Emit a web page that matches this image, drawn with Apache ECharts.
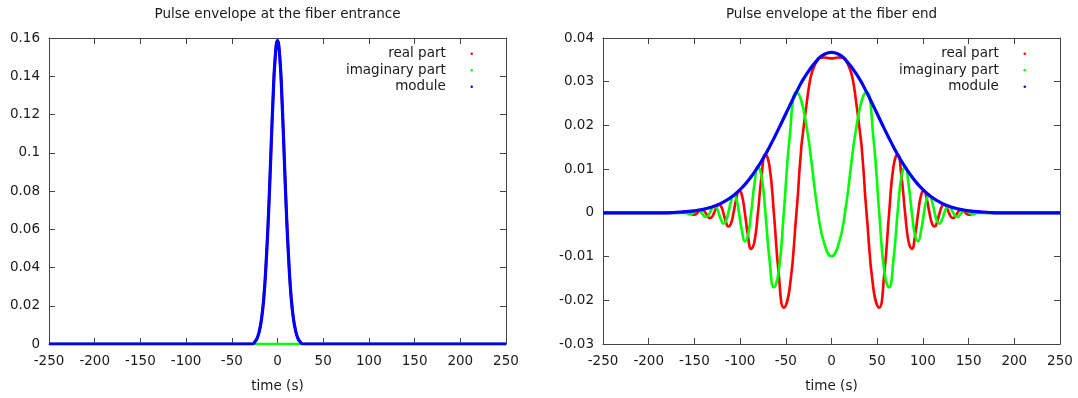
<!DOCTYPE html>
<html>
<head>
<meta charset="utf-8">
<script src="https://cdn.jsdelivr.net/npm/echarts@6/dist/echarts.min.js"></script>
<style>
  html, body { margin: 0; padding: 0; background: #fff; }
  #chart { width: 1078px; height: 398px; }
</style>
</head>
<body>
<div id="chart"></div>
<script>
// gnuplot-style pair of panels: pulse at the fiber entrance and at the fiber end.
// Values (time in s, amplitude in a.u.).

const seriesNames = ['real part', 'imaginary part', 'module']
const seriesColors = ['#ff0000', '#00ff00', '#0000ff']

// left panel: entrance
const entranceTime = [-250, -27.5, -25, -22.5, -20, -17.5, -15, -12.5, -10, -7.5, -5, -2.5, 0,
  2.5, 5, 7.5, 10, 12.5, 15, 17.5, 20, 22.5, 25, 27.5, 250]
const entranceReal = [0, 0, 0.001, 0.0028, 0.0065, 0.013, 0.024, 0.042, 0.066, 0.0962, 0.127, 0.150, 0.1586,
  0.150, 0.127, 0.0962, 0.066, 0.042, 0.024, 0.013, 0.0065, 0.0028, 0.001, 0, 0]
const entranceImag = [0, 0, 0, 0, 0, 0, 0, 0, 0, 0, 0, 0, 0,
  0, 0, 0, 0, 0, 0, 0, 0, 0, 0, 0, 0]
const entranceModule = [0, 0, 0.001, 0.0028, 0.0065, 0.013, 0.024, 0.042, 0.066, 0.0962, 0.127, 0.150, 0.1586,
  0.150, 0.127, 0.0962, 0.066, 0.042, 0.024, 0.013, 0.0065, 0.0028, 0.001, 0, 0]

// right panel: fiber end (chirped, broadened pulse)
const endTime = [-250, -185, -170,
  -158.96, -156.98, -154.97, -152.94, -150.88, -148.79, -146.67, -144.52, -142.34, -140.12,
  -137.87, -135.57, -133.24, -130.87, -128.46, -126.00, -123.49, -120.92, -118.31, -115.63,
  -112.89, -110.08, -107.20, -104.24, -101.19, -98.04, -94.80, -91.43, -87.94, -84.31,
  -80.51, -76.52, -72.31, -67.84, -63.06, -57.88, -52.19, -45.80, -38.35, -29.07, -14.78,
  -7.5, 0, 7.5,
  14.78, 29.07, 38.35, 45.80, 52.19, 57.88, 63.06, 67.84, 72.31, 76.52,
  80.51, 84.31, 87.94, 91.43, 94.80, 98.04, 101.19, 104.24, 107.20, 110.08,
  112.89, 115.63, 118.31, 120.92, 123.49, 126.00, 128.46, 130.87, 133.24, 135.57,
  137.87, 140.12, 142.34, 144.52, 146.67, 148.79, 150.88, 152.94, 154.97, 156.98, 158.96,
  170, 185, 250]
const endReal = [0, 0, 0,
  0.00028, 0.00023, 0, -0.00028, -0.00045, -0.00036, 0, 0.00046, 0.00073, 0.00059,
  0, -0.00075, -0.00119, -0.00095, 0, 0.00121, 0.00193, 0.00154, 0, -0.00197,
  -0.00313, -0.00250, 0, 0.00318, 0.00508, 0.00406, 0, -0.00517, -0.00825, -0.00658,
  0, 0.00838, 0.01337, 0.01067, 0, -0.01359, -0.02169, -0.01731, 0, 0.02205, 0.03518,
  0.03555, 0.03533, 0.03555,
  0.03518, 0.02205, 0, -0.01731, -0.02169, -0.01359, 0, 0.01067, 0.01337, 0.00838,
  0, -0.00658, -0.00825, -0.00517, 0, 0.00406, 0.00508, 0.00318, 0, -0.00250,
  -0.00313, -0.00197, 0, 0.00154, 0.00193, 0.00121, 0, -0.00095, -0.00119, -0.00075,
  0, 0.00059, 0.00073, 0.00046, 0, -0.00036, -0.00045, -0.00028, 0, 0.00023, 0.00028,
  0, 0, 0]
const endImag = [0, 0, 0,
  0, -0.00023, -0.00036, -0.00028, 0, 0.00036, 0.00058, 0.00046, 0, -0.00059,
  -0.00094, -0.00075, 0, 0.00095, 0.00152, 0.00121, 0, -0.00154, -0.00246, -0.00197,
  0, 0.00250, 0.00399, 0.00318, 0, -0.00406, -0.00647, -0.00517, 0, 0.00658,
  0.01050, 0.00838, 0, -0.01067, -0.01703, -0.01359, 0, 0.01731, 0.02763, 0.02205, 0,
  -0.00734, -0.00993, -0.00734,
  0, 0.02205, 0.02763, 0.01731, 0, -0.01359, -0.01703, -0.01067, 0, 0.00838,
  0.01050, 0.00658, 0, -0.00517, -0.00647, -0.00406, 0, 0.00318, 0.00399, 0.00250,
  0, -0.00197, -0.00246, -0.00154, 0, 0.00121, 0.00152, 0.00095, 0, -0.00075,
  -0.00094, -0.00059, 0, 0.00046, 0.00058, 0.00036, 0, -0.00028, -0.00036, -0.00023, 0,
  0, 0, 0]
const endModule = [0, 0, 0.00014,
  0.00028, 0.00032, 0.00036, 0.00040, 0.00045, 0.00051, 0.00058, 0.00065, 0.00073, 0.00083,
  0.00094, 0.00106, 0.00119, 0.00135, 0.00152, 0.00171, 0.00193, 0.00218, 0.00246, 0.00278,
  0.00313, 0.00354, 0.00399, 0.00450, 0.00508, 0.00574, 0.00647, 0.00731, 0.00825, 0.00931,
  0.01050, 0.01185, 0.01337, 0.01509, 0.01703, 0.01922, 0.02169, 0.02448, 0.02763, 0.03118, 0.03518,
  0.03630, 0.0367, 0.03630,
  0.03518, 0.03118, 0.02763, 0.02448, 0.02169, 0.01922, 0.01703, 0.01509, 0.01337, 0.01185,
  0.01050, 0.00931, 0.00825, 0.00731, 0.00647, 0.00574, 0.00508, 0.00450, 0.00399, 0.00354,
  0.00313, 0.00278, 0.00246, 0.00218, 0.00193, 0.00171, 0.00152, 0.00135, 0.00119, 0.00106,
  0.00094, 0.00083, 0.00073, 0.00065, 0.00058, 0.00051, 0.00045, 0.00040, 0.00036, 0.00032, 0.00028,
  0.00014, 0, 0]

const timeRange = { min: -250, max: 250, interval: 50 }
const entranceRange = { min: 0, max: 0.16, interval: 0.02 }
const endRange = { min: -0.03, max: 0.04, interval: 0.01 }

const FONT = '"DejaVu Sans", sans-serif'
const FS = 13.5
const INK = '#1a1a1a'
const FRAME = '#444'

const fmt = v => String(Math.round(v * 1000) / 1000)
const pairs = (t, v) => t.map((x, i) => [x, v[i]])

function xAxes(grid) {
  const base = {
    type: 'value', gridIndex: grid, ...timeRange,
    axisLine: { show: true, onZero: false, lineStyle: { color: FRAME, width: 1 } },
    axisTick: { show: true, inside: true, length: 6, lineStyle: { color: FRAME } },
    splitLine: { show: false },
  }
  return [
    { ...base, position: 'bottom',
      name: 'time (s)', nameLocation: 'middle', nameGap: 35,
      nameTextStyle: { fontFamily: FONT, fontSize: FS, color: INK },
      axisLabel: { fontFamily: FONT, fontSize: FS, color: INK, margin: 10 } },
    { ...base, position: 'top', axisLabel: { show: false } },
  ]
}

function yAxes(grid, range) {
  const base = {
    type: 'value', gridIndex: grid, ...range,
    axisLine: { show: true, onZero: false, lineStyle: { color: FRAME, width: 1 } },
    axisTick: { show: true, inside: true, length: 6, lineStyle: { color: FRAME } },
    splitLine: { show: false },
  }
  return [
    { ...base, position: 'left',
      axisLabel: { fontFamily: FONT, fontSize: FS, color: INK, margin: 9, formatter: fmt } },
    { ...base, position: 'right', axisLabel: { show: false } },
  ]
}

function panelSeries(axisIdx, time, values) {
  return values.map((v, i) => ({
    name: seriesNames[i],
    type: 'line',
    xAxisIndex: axisIdx,
    yAxisIndex: axisIdx,
    data: pairs(time, v),
    smooth: 0.5,
    showSymbol: false,
    color: seriesColors[i],
    lineStyle: { width: i === 2 ? 3.2 : 2.6, color: seriesColors[i] },
  }))
}

function legend(right) {
  return {
    orient: 'vertical', align: 'right', right, top: 45.5, padding: 0,
    icon: 'circle', itemWidth: 42, itemHeight: 2.5, itemGap: 0.3,
    textStyle: { fontFamily: FONT, fontSize: FS, color: INK, lineHeight: 16.3 },
    data: seriesNames,
  }
}

const chart = echarts.init(document.getElementById('chart'), null, { renderer: 'canvas' })
chart.setOption({
  animation: false,
  backgroundColor: '#fff',
  title: [
    { text: 'Pulse envelope at the fiber entrance', left: 277.5, top: 7, textAlign: 'center', padding: 0,
      textStyle: { fontFamily: FONT, fontSize: FS, fontWeight: 'normal', color: INK, lineHeight: 15 } },
    { text: 'Pulse envelope at the fiber end', left: 831.5, top: 7, textAlign: 'center', padding: 0,
      textStyle: { fontFamily: FONT, fontSize: FS, fontWeight: 'normal', color: INK, lineHeight: 15 } },
  ],
  legend: [legend(605), legend(52)],
  grid: [
    { left: 49, top: 38, width: 457, height: 309 },
    { left: 603, top: 38, width: 457, height: 309 },
  ],
  // axis order: 0 bottom/left of panel 1, 1 top/right of panel 1, 2 and 3 same for panel 2
  xAxis: [...xAxes(0), ...xAxes(1)],
  yAxis: [...yAxes(0, entranceRange), ...yAxes(1, endRange)],
  series: [
    ...panelSeries(0, entranceTime, [entranceReal, entranceImag, entranceModule]),
    ...panelSeries(2, endTime, [endReal, endImag, endModule]),
  ],
})
</script>
</body>
</html>
